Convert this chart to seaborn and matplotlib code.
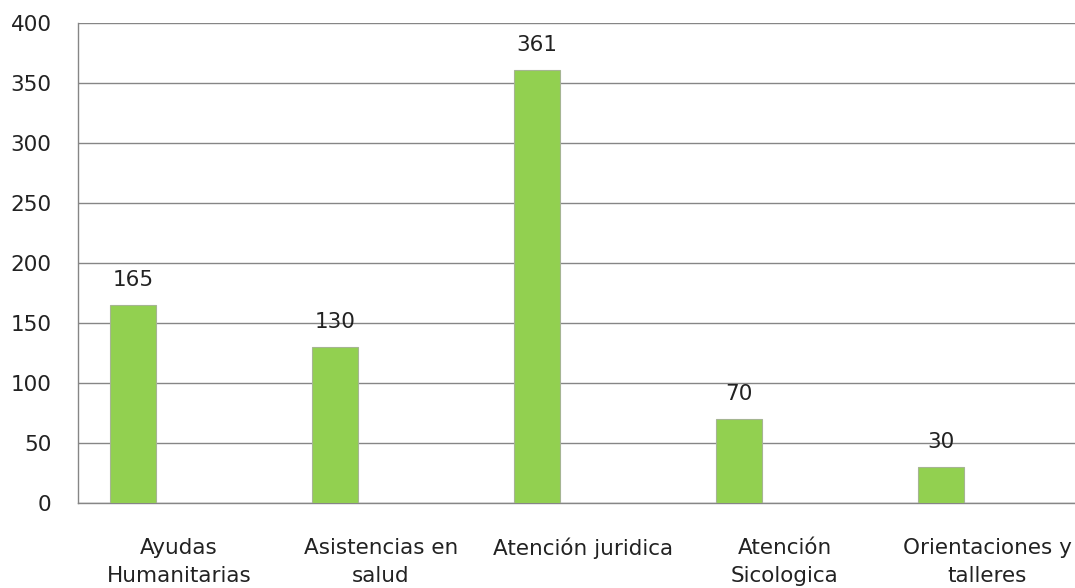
import matplotlib
matplotlib.use("Agg")
import matplotlib.pyplot as plt
import seaborn as sns
import numpy as np
import pandas as pd

# Chart data
categories = ["Ayudas\nHumanitarias", "Asistencias en\nsalud", "Atención juridica",
              "Atención\nSicologica", "Orientaciones y\ntalleres"]
values = [165, 130, 361, 70, 30]
# the original Excel chart has two more (empty) series in each cluster
series = ["Serie 1", "Serie 2", "Serie 3"]
y_ticks = [0, 50, 100, 150, 200, 250, 300, 350, 400]

sns.set_style("white")
plt.rcParams["font.family"] = ["DejaVu Sans"]

rows = []
for cat, val in zip(categories, values):
    rows.append((cat, series[0], val))
    rows.append((cat, series[1], np.nan))
    rows.append((cat, series[2], np.nan))
df = pd.DataFrame(rows, columns=["categoria", "serie", "valor"])

fig = plt.figure(figsize=(10.75, 5.88), dpi=100)
ax = fig.add_axes([78 / 1075, 1 - 503 / 588, 1010 / 1075, 480 / 588])

grey = "#868686"
txt = "#222222"
fs = 15.5
sns.barplot(data=df, x="categoria", y="valor", hue="serie", hue_order=series,
            order=categories, width=0.684, palette=["#92D050", "#4F81BD", "#C0504D"],
            saturation=1, edgecolor="#A5B592", linewidth=0.8, legend=False,
            ax=ax, zorder=3)

ax.bar_label(ax.containers[0], fmt="%d", padding=11, fontsize=fs, color=txt)

ax.set_ylim(0, 400)
ax.set_yticks(y_ticks)
ax.set_xlim(-0.5, len(categories) - 0.5)
ax.yaxis.grid(True, color=grey, linewidth=1, zorder=0)
ax.set_axisbelow(True)

for side in ["top", "right"]:
    ax.spines[side].set_visible(False)
for side in ["left", "bottom"]:
    ax.spines[side].set_color(grey)
    ax.spines[side].set_linewidth(1)

ax.tick_params(axis="y", length=7, width=1, color=grey, pad=12, labelsize=fs, labelcolor=txt)
ax.tick_params(axis="x", which="major", length=0, pad=25, labelsize=fs, labelcolor=txt)
ax.set_xticks(np.arange(len(categories)) - 0.5, minor=True)
ax.tick_params(axis="x", which="minor", length=7, width=1, color=grey)
for lbl in ax.get_xticklabels():
    lbl.set_linespacing(1.5)

ax.set_xlabel("")
ax.set_ylabel("")

fig.savefig("out.png", dpi=100)
